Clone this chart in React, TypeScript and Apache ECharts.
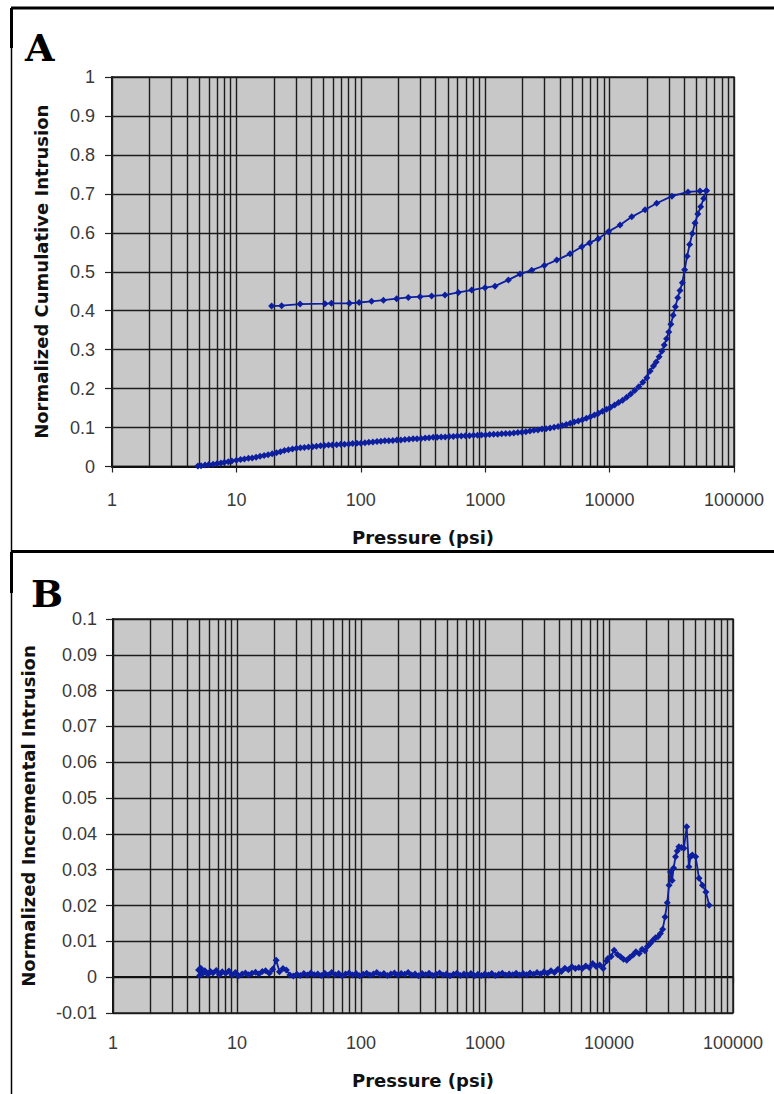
import React, { useEffect, useRef } from "react";
import * as echarts from "echarts";

const NAVY = "#0d1f9e";
const GRID_INK = "#1c1c1c";

// Panel A: cumulative intrusion while pressurising, [psi, normalized volume]
const intrusion: [number, number][] = [
  [4.9, 0.001], [5.2, 0.002], [5.6, 0.004], [6.0, 0.005], [6.5, 0.006], [7.0, 0.008],
  [7.5, 0.009], [8.0, 0.011], [8.6, 0.012], [9.2, 0.014], [10, 0.016], [10.8, 0.018],
  [11.6, 0.019], [12.5, 0.021], [13.4, 0.022], [14.4, 0.024], [15.5, 0.026], [16.7, 0.028],
  [18, 0.03], [19.4, 0.033], [21, 0.035], [22.6, 0.038], [24.3, 0.041], [26.2, 0.043],
  [28.2, 0.045], [30.4, 0.047], [32.7, 0.048], [35.2, 0.049], [38, 0.05], [41, 0.051],
  [44, 0.052], [47.5, 0.053], [51, 0.054], [55, 0.055], [59, 0.055], [64, 0.056],
  [69, 0.057], [74, 0.057], [80, 0.058], [86, 0.059], [93, 0.06], [100, 0.06],
  [108, 0.061], [116, 0.062], [125, 0.063], [135, 0.064], [145, 0.065], [156, 0.066],
  [168, 0.066], [181, 0.067], [195, 0.068], [210, 0.068], [226, 0.069], [244, 0.07],
  [263, 0.071], [283, 0.071], [305, 0.072], [329, 0.073], [354, 0.074], [382, 0.075],
  [411, 0.075], [443, 0.076], [477, 0.076], [514, 0.077], [554, 0.077], [597, 0.078],
  [643, 0.078], [693, 0.079], [747, 0.079], [805, 0.08], [867, 0.08], [934, 0.081],
  [1007, 0.081], [1085, 0.082], [1169, 0.083], [1260, 0.083], [1357, 0.084], [1462, 0.085],
  [1576, 0.085], [1698, 0.086], [1830, 0.087], [1971, 0.088], [2124, 0.089], [2289, 0.091],
  [2466, 0.093], [2657, 0.094], [2863, 0.096], [3085, 0.097], [3324, 0.099], [3581, 0.101],
  [3859, 0.103], [4158, 0.105], [4480, 0.108], [4827, 0.111], [5201, 0.114], [5604, 0.117],
  [6038, 0.12], [6505, 0.124], [7010, 0.128], [7553, 0.132], [8138, 0.137], [8768, 0.142],
  [9448, 0.147], [10180, 0.152], [10970, 0.158], [11820, 0.164], [12730, 0.17], [13720, 0.178],
  [14780, 0.186], [15930, 0.195], [17160, 0.205], [18490, 0.216], [19920, 0.228], [21200, 0.245],
  [22500, 0.258], [23700, 0.268], [25000, 0.282], [26300, 0.296], [27500, 0.312], [28700, 0.328],
  [29900, 0.345], [31100, 0.365], [32400, 0.388], [33800, 0.41], [35300, 0.433], [36800, 0.452],
  [38400, 0.472], [40100, 0.505], [42000, 0.54], [44000, 0.57], [46200, 0.598], [48600, 0.625],
  [51200, 0.648], [54000, 0.667], [57000, 0.688], [60000, 0.708],
];

// Panel A: extrusion while depressurising, [psi, normalized volume]
const extrusion: [number, number][] = [
  [60000, 0.708], [53300, 0.707], [42700, 0.705], [31700, 0.694], [23920, 0.676], [19280, 0.659],
  [15070, 0.641], [12130, 0.62], [9772, 0.603], [8110, 0.585], [6900, 0.574], [5970, 0.564],
  [4808, 0.546], [3758, 0.53], [2987, 0.516], [2366, 0.504], [1905, 0.494], [1535, 0.479],
  [1199, 0.463], [996, 0.459], [779, 0.453], [608, 0.447], [475, 0.44], [371, 0.438],
  [299, 0.436], [241, 0.434], [194, 0.431], [152, 0.427], [122, 0.424], [97, 0.421],
  [81, 0.419], [58, 0.419], [51.5, 0.418], [32.5, 0.417], [23.1, 0.413], [19.2, 0.412],
];

// Panel B: incremental intrusion, [psi, normalized volume]
const incremental: [number, number][] = [
  [4.9, 0.002], [5.0, 0.0005], [5.1, 0.0025], [5.3, 0.001], [5.5, 0.0018], [5.8, 0.0008],
  [6.1, 0.0016], [6.4, 0.0012], [6.8, 0.0019], [7.2, 0.0007], [7.6, 0.0015], [8.1, 0.0011],
  [8.6, 0.0017], [9.1, 0.0006], [9.7, 0.0013], [10.3, 0.0004], [11, 0.0009], [11.7, 0.0012],
  [12.4, 0.0007], [13.2, 0.0011], [14.1, 0.0014], [15, 0.0009], [16, 0.0016], [17, 0.0018],
  [18.2, 0.0011], [19.4, 0.0022], [20.7, 0.0047], [22, 0.0015], [23.5, 0.0024], [25, 0.002],
  [26.7, 0.0006], [28.5, 0.0003], [30.4, 0.0008], [32.4, 0.0005], [34.6, 0.001], [36.9, 0.0006],
  [39.4, 0.0012], [42, 0.0007], [44.8, 0.0009], [47.8, 0.0005], [51, 0.0011], [54.4, 0.0006],
  [58, 0.0013], [61.9, 0.0007], [66, 0.001], [70.4, 0.0004], [75.1, 0.0009], [80.1, 0.0012],
  [85.5, 0.0006], [91.2, 0.001], [97.3, 0.0004], [104, 0.0008], [111, 0.0011], [118, 0.0006],
  [126, 0.0009], [134, 0.0013], [143, 0.0007], [153, 0.001], [163, 0.0005], [174, 0.0009],
  [186, 0.0012], [198, 0.0006], [211, 0.001], [225, 0.0008], [240, 0.0013], [256, 0.0006],
  [273, 0.0009], [291, 0.0004], [311, 0.001], [332, 0.0007], [354, 0.0011], [378, 0.0005],
  [403, 0.0008], [430, 0.0012], [459, 0.0006], [489, 0.0009], [522, 0.0004], [557, 0.0008],
  [594, 0.0011], [634, 0.0005], [676, 0.0009], [721, 0.0006], [769, 0.001], [821, 0.0004],
  [876, 0.0008], [934, 0.0005], [997, 0.0009], [1063, 0.0006], [1134, 0.001], [1210, 0.0005],
  [1291, 0.0008], [1377, 0.0011], [1469, 0.0006], [1567, 0.0009], [1672, 0.0007], [1783, 0.0011],
  [1902, 0.0006], [2029, 0.001], [2165, 0.0007], [2309, 0.0012], [2463, 0.0008], [2628, 0.0013],
  [2803, 0.0009], [2990, 0.0015], [3190, 0.0011], [3403, 0.0018], [3630, 0.0013], [3873, 0.0022],
  [4131, 0.0016], [4407, 0.0025], [4701, 0.0021], [5015, 0.0029], [5350, 0.0024], [5707, 0.0027],
  [6088, 0.0024], [6494, 0.0031], [6928, 0.0027], [7390, 0.0038], [7884, 0.003], [8410, 0.0034],
  [8971, 0.0024], [9570, 0.0045], [9800, 0.0052], [10400, 0.0058], [11000, 0.0075], [11700, 0.0063],
  [12400, 0.0057], [13100, 0.005], [13900, 0.0047], [14700, 0.0055], [15600, 0.0062], [16500, 0.0071],
  [17500, 0.0066], [18500, 0.0078], [19500, 0.0074], [20400, 0.0086], [21500, 0.0094], [22600, 0.0103],
  [23700, 0.011], [24800, 0.0113], [26000, 0.0122], [27100, 0.0134], [28300, 0.0168], [29500, 0.0208],
  [30500, 0.0257], [31300, 0.0294], [32300, 0.027], [33200, 0.0305], [34400, 0.0336], [35500, 0.0352],
  [36600, 0.0364], [38400, 0.0362], [40200, 0.036], [42300, 0.042], [44100, 0.0308], [45500, 0.0336],
  [47000, 0.0341], [50000, 0.0336], [53200, 0.0276], [56700, 0.0257], [60400, 0.0238], [64300, 0.0201],
];

const pressureDecades = [1, 10, 100, 1000, 10000];
const pressureMax = 100000;
const panelTitles = ["A", "B"];
const yNames = ["Normalized Cumulative Intrusion", "Normalized Incremental Intrusion"];
const xName = "Pressure (psi)";

// vertical grid lines at 1..9 of every decade
const logGridValues: number[] = [];
pressureDecades.forEach((d) => {
  for (let k = 1; k <= 9; k++) logGridValues.push(d * k);
});
logGridValues.push(pressureMax);

const tickFont = { fontFamily: "Liberation Sans", fontSize: 18, color: "#3a3a3a" };
const titleFont = { fontFamily: "DejaVu Sans", fontWeight: "bold" as const, fontSize: 18, color: "#111" };

function xAxisFor(gridIndex: number, labelMargin: number, nameGap: number) {
  return {
    gridIndex,
    type: "log" as const,
    logBase: 10,
    min: 1,
    max: pressureMax,
    axisLine: { show: true, lineStyle: { color: "#111", width: 2 } },
    axisTick: { show: true, length: 6, lineStyle: { color: "#222", width: 1.2 } },
    axisLabel: { ...tickFont, margin: labelMargin, formatter: (v: number) => String(Math.round(v)) },
    splitLine: { show: false },
    name: xName,
    nameLocation: "middle" as const,
    nameGap,
    nameTextStyle: titleFont,
  };
}

function yAxisFor(gridIndex: number, min: number, max: number, interval: number, labelMargin: number, name: string, nameGap: number) {
  return {
    gridIndex,
    type: "value" as const,
    min,
    max,
    interval,
    axisLine: { show: true, onZero: false, lineStyle: { color: "#111", width: 2 } },
    axisTick: { show: true, length: 7, lineStyle: { color: "#222", width: 1.2 } },
    axisLabel: { ...tickFont, margin: labelMargin },
    splitLine: { show: true, lineStyle: { color: GRID_INK, width: 1.4 } },
    name,
    nameLocation: "middle" as const,
    nameRotate: 90,
    nameGap,
    nameTextStyle: titleFont,
  };
}

const verticalGrid = {
  silent: true,
  z: 1,
  symbol: ["none", "none"],
  label: { show: false },
  emphasis: { disabled: true },
  lineStyle: { color: GRID_INK, width: 1.4, type: "solid" as const },
  data: logGridValues.map((v) => ({ xAxis: v })),
};

function markSeries(name: string, data: [number, number][], xIdx: number, withGrid: boolean) {
  return {
    name,
    type: "line" as const,
    xAxisIndex: xIdx,
    yAxisIndex: xIdx,
    data,
    z: 3,
    symbol: "diamond",
    symbolSize: 7,
    showSymbol: true,
    lineStyle: { color: NAVY, width: 1.8 },
    itemStyle: { color: NAVY },
    markLine: withGrid ? verticalGrid : undefined,
  };
}

export default function App() {
  const ref = useRef<HTMLDivElement>(null);

  useEffect(() => {
    if (!ref.current) return;
    const chart = echarts.init(ref.current, null, { renderer: "svg" });
    chart.setOption({
      animation: false,
      backgroundColor: "#ffffff",
      grid: [
        { left: 112, top: 77, width: 622, height: 389.5, show: true, backgroundColor: "#c8c8c8", borderColor: "#222", borderWidth: 1.5 },
        { left: 113, top: 619, width: 620, height: 394, show: true, backgroundColor: "#c8c8c8", borderColor: "#222", borderWidth: 1.5 },
      ],
      xAxis: [xAxisFor(0, 24, 62), xAxisFor(1, 21, 58)],
      yAxis: [
        yAxisFor(0, 0, 1, 0.1, 17, yNames[0], 62),
        yAxisFor(1, -0.01, 0.1, 0.01, 16, yNames[1], 76),
      ],
      series: [
        markSeries("intrusion", intrusion, 0, true),
        markSeries("extrusion", extrusion, 0, false),
        markSeries("incremental", incremental, 1, true),
      ],
      graphic: [
        { type: "line", shape: { x1: 11, y1: 8, x2: 774, y2: 8 }, style: { stroke: "#000", lineWidth: 3 } },
        { type: "line", shape: { x1: 11, y1: 551.5, x2: 774, y2: 551.5 }, style: { stroke: "#000", lineWidth: 3 } },
        { type: "line", shape: { x1: 11.5, y1: 8, x2: 11.5, y2: 1094 }, style: { stroke: "#000", lineWidth: 1.5 } },
        { type: "line", shape: { x1: 11.5, y1: 8, x2: 11.5, y2: 48 }, style: { stroke: "#000", lineWidth: 3 } },
        { type: "line", shape: { x1: 11.5, y1: 552, x2: 11.5, y2: 593 }, style: { stroke: "#000", lineWidth: 3 } },
        { type: "text", left: 25, top: 28, style: { text: panelTitles[0], font: 'bold 38px "DejaVu Serif"', fill: "#000" } },
        { type: "text", left: 31, top: 574, style: { text: panelTitles[1], font: 'bold 38px "DejaVu Serif"', fill: "#000" } },
      ],
    });
    return () => chart.dispose();
  }, []);

  return (
    <div
      ref={ref}
      style={{ position: "absolute", left: 0, top: 0, width: 774, height: 1094, background: "#fff" }}
    />
  );
}
